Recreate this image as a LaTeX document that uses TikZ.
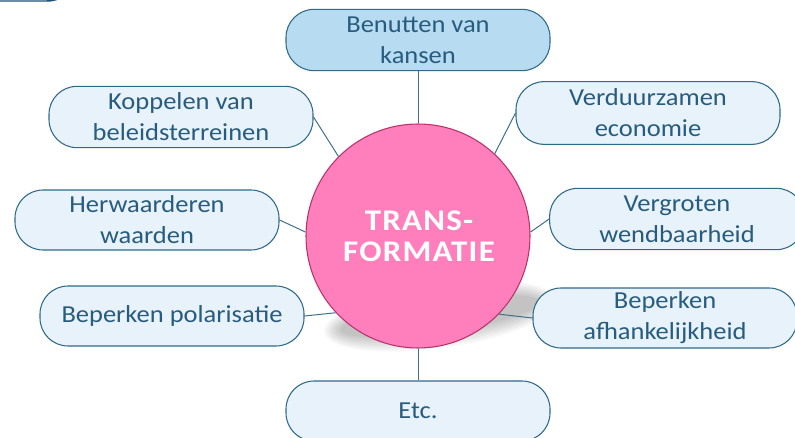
\documentclass[tikz,border=0pt]{standalone}
\usepackage{fontspec}
\setmainfont{Carlito}[FakeStretch=1.086]
\newfontfamily\titlefont{Carlito}[FakeStretch=1.1,LetterSpace=4]
\definecolor{boxfill}{HTML}{E7F2FA}
\definecolor{benfill}{HTML}{B7DBF0}
\definecolor{boxline}{HTML}{2F6A87}
\definecolor{boxtext}{HTML}{285C7E}
\definecolor{hubfill}{HTML}{FF7FBC}
\definecolor{hubline}{HTML}{B8336A}
\definecolor{linkcol}{HTML}{3F7189}
\definecolor{fragcol}{HTML}{1F4F7A}
\begin{document}
\begin{tikzpicture}[x=0.75pt,y=-0.75pt,
  bubble/.style={draw=boxline, line width=0.8pt, fill=boxfill, rounded corners=21pt,
    minimum width=198pt, minimum height=46pt, inner sep=2pt, align=center,
    text=boxtext, font=\fontsize{18.3pt}{23.25pt}\selectfont},
  hub/.style={circle, draw=hubline, line width=0.8pt, fill=hubfill,
    minimum size=168pt, inner sep=0pt},
  hubtext/.style={text=white, align=center, inner sep=0pt,
    font=\titlefont\bfseries\fontsize{22.5pt}{23.5pt}\selectfont},
  linkline/.style={draw=linkcol, line width=0.75pt}]
\useasboundingbox (0,0) rectangle (795,438);
\fill[white] (0,0) rectangle (795,438);
% fragment of a shape cut by the top edge
\begin{scope}
  \clip (0,0) rectangle (795,438);
  \draw[fragcol, line width=1.1pt, rounded corners=25pt] (-40,-60) rectangle (80,1);
\end{scope}
% soft shadow of the hub
\begin{scope}[shift={(440,316)}, rotate=8]
  \foreach \i in {0,...,7}
    \fill[black, opacity=0.032] (0,0) ellipse [x radius={75pt+\i*1.8pt}, y radius={12pt+\i*1.7pt}];
\end{scope}
% hub
\node[hub] (c) at (418,236) {};
\node[hubtext] (t) at (419,236) {TRANS-\\FORMATIE};
% satellites
\node[bubble, fill=benfill] (ben) at (418,40) {Benutten van\\kansen};
\node[bubble] (kop) at (181,117) {Koppelen van\\beleidsterreinen};
\node[bubble, minimum height=47pt] (ver) at (648,113) {Verduurzamen\\economie};
\node[bubble, minimum height=45pt] (her) at (147,220) {Herwaarderen\\waarden};
\node[bubble, minimum width=191pt] (vgr) at (677,219) {Vergroten\\wendbaarheid};
\node[bubble, minimum height=45pt] (afh) at (665,318) {Beperken\\afhankelijkheid};
\node[bubble, minimum height=45pt] (pol) at (172,316) {Beperken polarisatie};
\node[bubble, minimum height=45pt] (etc) at (418,411) {Etc.};
% connectors
\draw[linkline] (ben.south) -- (c.north);
\draw[linkline] (kop.east) -- (c.135);
\draw[linkline] (ver.west) -- (c.47);
\draw[linkline] (her.east) -- (c.178);
\draw[linkline] (vgr.west) -- (c.2);
\draw[linkline] (pol.east) -- (c.223);
\draw[linkline] (afh.west) -- (c.316);
\draw[linkline] (c.south) -- (etc.north);
\end{tikzpicture}
\end{document}
